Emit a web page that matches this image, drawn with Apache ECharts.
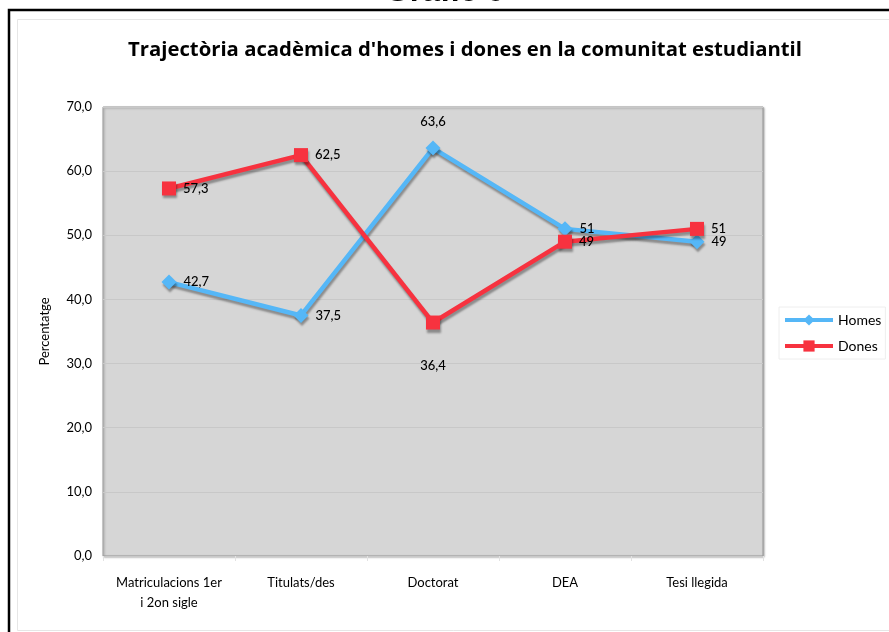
<!DOCTYPE html>
<html>
<head>
<meta charset="utf-8">
<script src="https://cdn.jsdelivr.net/npm/echarts@6/dist/echarts.min.js"></script>
<style>
  html, body { margin: 0; padding: 0; background: #fff; }
  #chart { width: 889px; height: 632px; }
</style>
</head>
<body>
<div id="chart"></div>
<script>
// categories on the x axis
const categories = ['Matriculacions 1er\ni 2on sigle', 'Titulats/des', 'Doctorat', 'DEA', 'Tesi llegida'];
// percentages per series
const homes = [42.7, 37.5, 63.6, 51, 49];
const dones = [57.3, 62.5, 36.4, 49, 51];
// where each value label sits
const homesLabelPos = ['right', 'right', 'top', 'right', 'right'];
const donesLabelPos = ['right', 'right', 'bottom', 'right', 'right'];

const font = 'Lato, "Open Sans", sans-serif';

function fmt (v) {
  return String(v).replace('.', ',');
}

function buildData (values, positions) {
  return values.map((v, i) => ({
    value: v,
    label: {
      position: positions[i],
      distance: positions[i] === 'bottom' ? 30 : (positions[i] === 'top' ? 12 : 7)
    }
  }));
}

const chart = echarts.init(document.getElementById('chart'));

const shadow = {
  shadowColor: 'rgba(0,0,0,0.35)',
  shadowBlur: 2,
  shadowOffsetX: 1,
  shadowOffsetY: 3
};

chart.setOption({
  animation: false,
  textStyle: { fontFamily: font },
  graphic: [
    // clipped heading above the frame
    {
      type: 'text', left: 'center', top: -24,
      style: { text: 'Gràfic 6', font: 'bold 32px "Liberation Sans", Arial, sans-serif', fill: '#000' }
    },
    // black frame
    { type: 'rect', shape: { x: 9, y: 10, width: 900, height: 700 }, style: { fill: 'none', stroke: '#000', lineWidth: 2.5 } },
    // inner light border
    { type: 'rect', shape: { x: 17.5, y: 19.5, width: 900, height: 611 }, style: { fill: 'none', stroke: '#e6e6e6', lineWidth: 1 } }
  ],
  title: {
    text: "Trajectòria acadèmica d'homes i dones en la comunitat estudiantil",
    left: 460,
    textAlign: 'center',
    top: 35,
    textStyle: { fontFamily: '"Open Sans", Lato, sans-serif', fontWeight: 'bold', fontSize: 20.3, color: '#000' }
  },
  legend: {
    orient: 'vertical',
    left: 779,
    top: 307,
    itemWidth: 48,
    itemHeight: 14,
    itemGap: 12,
    padding: [6, 4, 6, 4],
    borderColor: '#eeeeee',
    borderWidth: 1,
    lineStyle: { width: 4, shadowBlur: 0, shadowOffsetX: 0, shadowOffsetY: 0 },
    itemStyle: { shadowBlur: 0, shadowOffsetX: 0, shadowOffsetY: 0 },
    textStyle: { fontFamily: font, fontSize: 14, color: '#000' },
    data: ['Homes', 'Dones']
  },
  grid: {
    left: 103,
    top: 107,
    right: 126,
    bottom: 76,
    show: true,
    backgroundColor: '#d6d6d6',
    borderColor: '#999999',
    borderWidth: 1,
    shadowColor: 'rgba(0,0,0,0.3)',
    shadowBlur: 2,
    shadowOffsetX: 1,
    shadowOffsetY: 1
  },
  xAxis: {
    type: 'category',
    data: categories,
    boundaryGap: true,
    axisLine: { show: false },
    axisTick: { show: true, length: 5, lineStyle: { color: '#e2e2e2' } },
    axisLabel: { interval: 0, fontFamily: font, fontSize: 13, color: '#000', margin: 17, lineHeight: 20 }
  },
  yAxis: {
    type: 'value',
    min: 0,
    max: 70,
    interval: 10,
    name: 'Percentatge',
    nameLocation: 'middle',
    nameGap: 52,
    nameTextStyle: { fontFamily: font, fontSize: 13, color: '#000' },
    axisLine: { show: false },
    axisTick: { show: false },
    splitLine: { lineStyle: { color: '#c8c8c8' } },
    axisLabel: {
      fontFamily: font, fontSize: 13, color: '#000', margin: 11,
      formatter: v => v.toFixed(1).replace('.', ',')
    }
  },
  series: [
    {
      name: 'Homes',
      type: 'line',
      data: buildData(homes, homesLabelPos),
      symbol: 'diamond',
      symbolSize: 15,
      color: '#55b7f7',
      lineStyle: Object.assign({ width: 4.5, color: '#55b7f7' }, shadow),
      itemStyle: Object.assign({ color: '#55b7f7' }, shadow),
      label: { show: true, fontFamily: font, fontSize: 13, fontWeight: 500, color: '#000', formatter: p => fmt(p.value) },
      z: 3
    },
    {
      name: 'Dones',
      type: 'line',
      data: buildData(dones, donesLabelPos),
      symbol: 'rect',
      symbolSize: 14,
      color: '#f7323f',
      lineStyle: Object.assign({ width: 4.5, color: '#f7323f' }, shadow),
      itemStyle: Object.assign({ color: '#f7323f' }, shadow),
      label: { show: true, fontFamily: font, fontSize: 13, fontWeight: 500, color: '#000', formatter: p => fmt(p.value) },
      z: 4
    }
  ]
});
</script>
</body>
</html>
